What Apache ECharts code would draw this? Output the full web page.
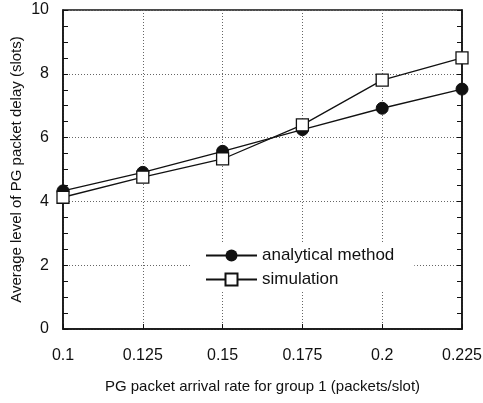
<!DOCTYPE html>
<html>
<head>
<meta charset="utf-8">
<script src="https://cdn.jsdelivr.net/npm/echarts@6/dist/echarts.min.js"></script>
<style>
html,body{margin:0;padding:0;background:#fff;}
#chart{width:483px;height:403px;}
</style>
</head>
<body>
<div id="chart"></div>
<script>
// arrival rates (packets/slot)
var arrivalRates = [0.1, 0.125, 0.15, 0.175, 0.2, 0.225];
// average delay (slots)
var analyticalDelay = [4.33, 4.91, 5.57, 6.25, 6.92, 7.52];
var simulationDelay = [4.13, 4.76, 5.33, 6.40, 7.80, 8.50];
var yTicks = [0, 2, 4, 6, 8, 10];

function pairs(xs, ys){
	var out = [];
	for(var i=0;i<xs.length;i++){
		out.push([xs[i], ys[i]]);
	}
	return out;
}

var fontName = '"Liberation Sans", Arial, Helvetica, sans-serif';
var ink = '#111';
var gridDots = {show: true, lineStyle: {color: '#666', type: [1, 2], width: 1}};

var myChart = echarts.init(document.getElementById('chart'));
myChart.setOption({
	animation: false,
	backgroundColor: '#fff',
	textStyle: {fontFamily: fontName, color: ink},
	grid: {left: 63, right: 21, top: 10, bottom: 74, outerBoundsMode: 'none', containLabel: false,
		show: true, borderColor: ink, borderWidth: 1.5, backgroundColor: 'transparent'},
	legend: {
		orient: 'vertical',
		left: 192, top: 243,
		padding: [4, 20, 4, 13],
		backgroundColor: '#fff',
		itemWidth: 51, itemHeight: 15, itemGap: 7,
		textStyle: {fontSize: 17, color: ink, fontFamily: fontName},
		data: ['analytical method', 'simulation']
	},
	xAxis: {
		type: 'value',
		min: arrivalRates[0], max: arrivalRates[arrivalRates.length-1], interval: 0.025,
		name: 'PG packet arrival rate for group 1 (packets/slot)',
		nameLocation: 'middle', nameGap: 50, nameMoveOverlap: false,
		nameTextStyle: {fontSize: 15, color: ink},
		axisLine: {lineStyle: {color: ink, width: 1.5}},
		axisTick: {inside: true, length: 5, lineStyle: {color: ink}},
		axisLabel: {fontSize: 16, color: ink, margin: 19, formatter: function(v){ return String(+v.toFixed(3)); }},
		splitLine: gridDots
	},
	yAxis: [
		{
			type: 'value',
			min: yTicks[0], max: yTicks[yTicks.length-1], interval: 2,
			name: 'Average level of PG packet delay (slots)',
			nameLocation: 'middle', nameGap: 39, nameMoveOverlap: false,
			nameTextStyle: {fontSize: 15, color: ink},
			axisLine: {show: true, lineStyle: {color: ink, width: 1.5}},
			axisTick: {inside: true, length: 5, lineStyle: {color: ink}},
			minorTick: {show: true, splitNumber: 4, length: 5, lineStyle: {color: ink}},
			axisLabel: {fontSize: 16, color: ink, margin: 14},
			splitLine: gridDots
		},
		{
			type: 'value', position: 'right',
			min: yTicks[0], max: yTicks[yTicks.length-1], interval: 2,
			axisLine: {show: true, lineStyle: {color: ink, width: 1.5}},
			axisTick: {inside: true, length: 5, lineStyle: {color: ink}},
			minorTick: {show: true, splitNumber: 4, length: 5, lineStyle: {color: ink}},
			axisLabel: {show: false},
			splitLine: {show: false}
		}
	],
	series: [
		{
			name: 'analytical method',
			type: 'line',
			data: pairs(arrivalRates, analyticalDelay),
			symbol: 'circle', symbolSize: 12,
			lineStyle: {color: ink, width: 1.3},
			itemStyle: {color: ink, borderColor: ink},
			z: 3
		},
		{
			name: 'simulation',
			type: 'line',
			data: pairs(arrivalRates, simulationDelay),
			symbol: 'rect', symbolSize: 12,
			lineStyle: {color: ink, width: 1.3},
			itemStyle: {color: '#fff', borderColor: ink, borderWidth: 1.3},
			z: 4
		}
	]
});
</script>
</body>
</html>
